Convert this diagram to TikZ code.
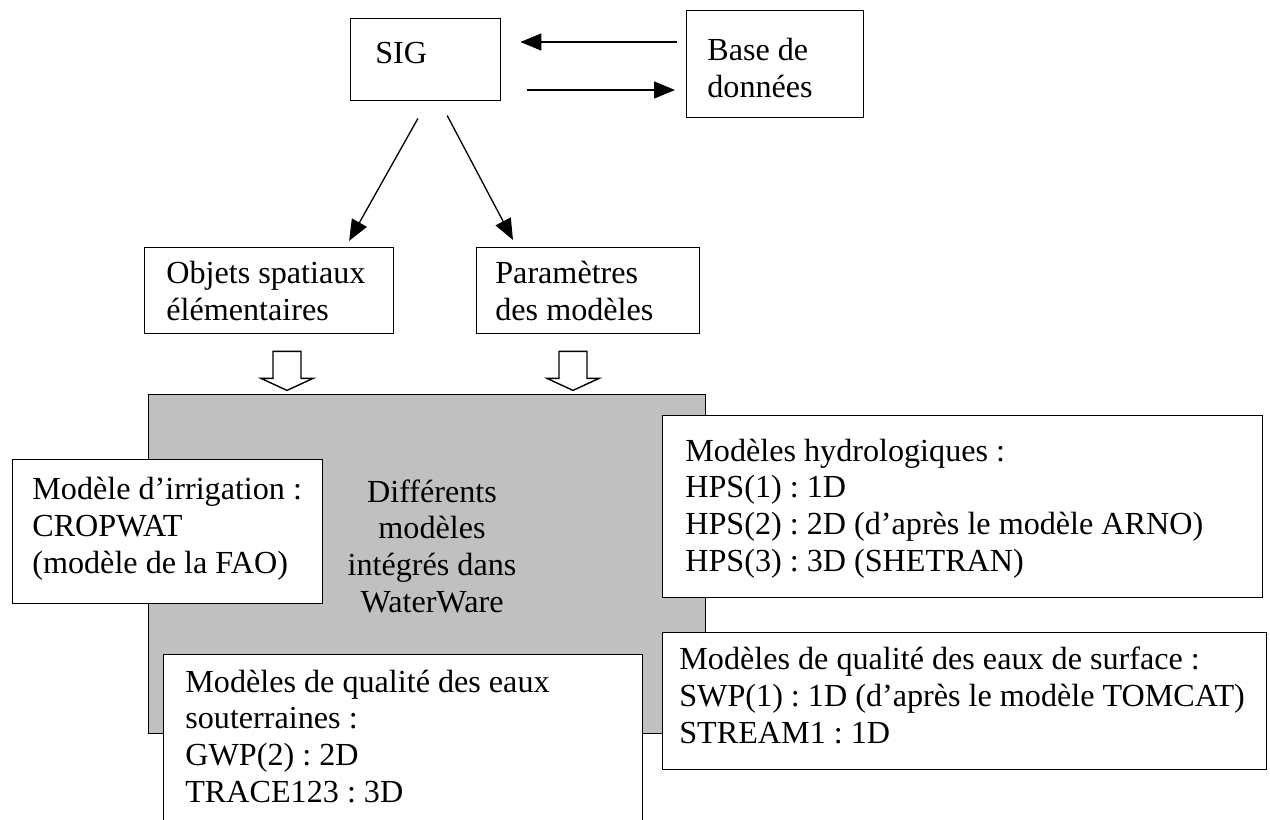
\documentclass[tikz,border=0pt]{standalone}
\usepackage{fontspec}
\setmainfont{Liberation Serif}
\usetikzlibrary{arrows.meta,calc}
\definecolor{wwgray}{RGB}{192,192,192}
\frenchspacing

\begin{document}
\begin{tikzpicture}[x=0.02cm,y=-0.02cm,>={Triangle[length=0.42cm,width=0.34cm]},line join=miter,
  box/.style={draw,line width=0.8pt,fill=white,inner sep=0pt,anchor=north west},
  txt/.style={inner sep=0pt,anchor=base west,align=left,font=\fontsize{18.3}{20.8}\selectfont},
  conn/.style={->,line width=0.75pt},
  hollow/.style={draw,line width=0.8pt,fill=white}]
\useasboundingbox (0,0) rectangle (1270,819);
\clip (0,0) rectangle (1270,819);
% WaterWare block (text placed by its last baseline)
\node[box,fill=wwgray,minimum width=11.14cm,minimum height=6.78cm] (ww) at (148,394) {};
\node[txt,anchor=base,align=center] (wwtxt) at (432,612) {Différents\\modèles\\intégrés dans\\WaterWare};
% models
\node[box,minimum width=6.2cm,minimum height=2.88cm] (irr) at (12,459) {};
\node[txt] (irrtxt) at (32,573) {Modèle d’irrigation :\\CROPWAT\\(modèle de la FAO)};
\node[box,minimum width=12cm,minimum height=3.64cm] (hyd) at (662,415) {};
\node[txt] (hydtxt) at (685,571) {Modèles hydrologiques :\\HPS(1) : 1D\\HPS(2) : 2D (d’après le modèle ARNO)\\HPS(3) : 3D (SHETRAN)};
\node[box,minimum width=12.08cm,minimum height=2.74cm] (surf) at (662,632) {};
\node[txt] (surftxt) at (679,743) {Modèles de qualité des eaux de surface :\\SWP(1) : 1D (d’après le modèle TOMCAT)\\STREAM1 : 1D};
\node[box,minimum width=9.58cm,minimum height=3.72cm] (gw) at (163,654) {};
\node[txt] (gwtxt) at (185,802) {Modèles de qualité des eaux\\souterraines :\\GWP(2) : 2D\\TRACE123 : 3D};
% SIG and database
\node[box,minimum width=3cm,minimum height=1.64cm] (sig) at (350,18) {};
\node[txt] (sigtxt) at (375,63) {SIG};
\node[box,minimum width=3.54cm,minimum height=2.14cm] (base) at (686,10) {};
\node[txt] (basetxt) at (707,97) {Base de\\données};
\draw[conn,shorten <=0.18cm,shorten >=0.38cm] ($(base.north west)+(0,32)$) -- ($(sig.north east)+(0,24)$);
\draw[conn,shorten <=0.52cm,shorten >=0.22cm] ($(sig.north east)+(0,72)$) -- ($(base.north west)+(0,80)$);
% outputs of the SIG
\node[box,minimum width=4.98cm,minimum height=1.72cm] (obj) at (144,247) {};
\node[txt] (objtxt) at (166,320) {Objets spatiaux\\élémentaires};
\node[box,minimum width=4.46cm,minimum height=1.72cm] (par) at (476,247) {};
\node[txt] (partxt) at (495,320) {Paramètres\\des modèles};
\draw[conn,shorten <=0.39cm,shorten >=0.14cm] ($(sig.south west)+(77.5,0)$) -- ($(obj.north west)+(201.7,0)$);
\draw[conn,shorten <=0.32cm,shorten >=0.16cm] ($(sig.south west)+(89.7,0)$) -- ($(par.north west)+(40.7,0)$);
% hollow arrows into WaterWare
\foreach \n/\dx in {obj/143,par/97}
  \draw[hollow] ($(\n.south west)+(\dx-14,17)$) -- ++(28,0) -- ++(0,27) -- ++(12,0)
    -- ++(-26,12) -- ++(-26,-12) -- ++(12,0) -- cycle;
\end{tikzpicture}
\end{document}
